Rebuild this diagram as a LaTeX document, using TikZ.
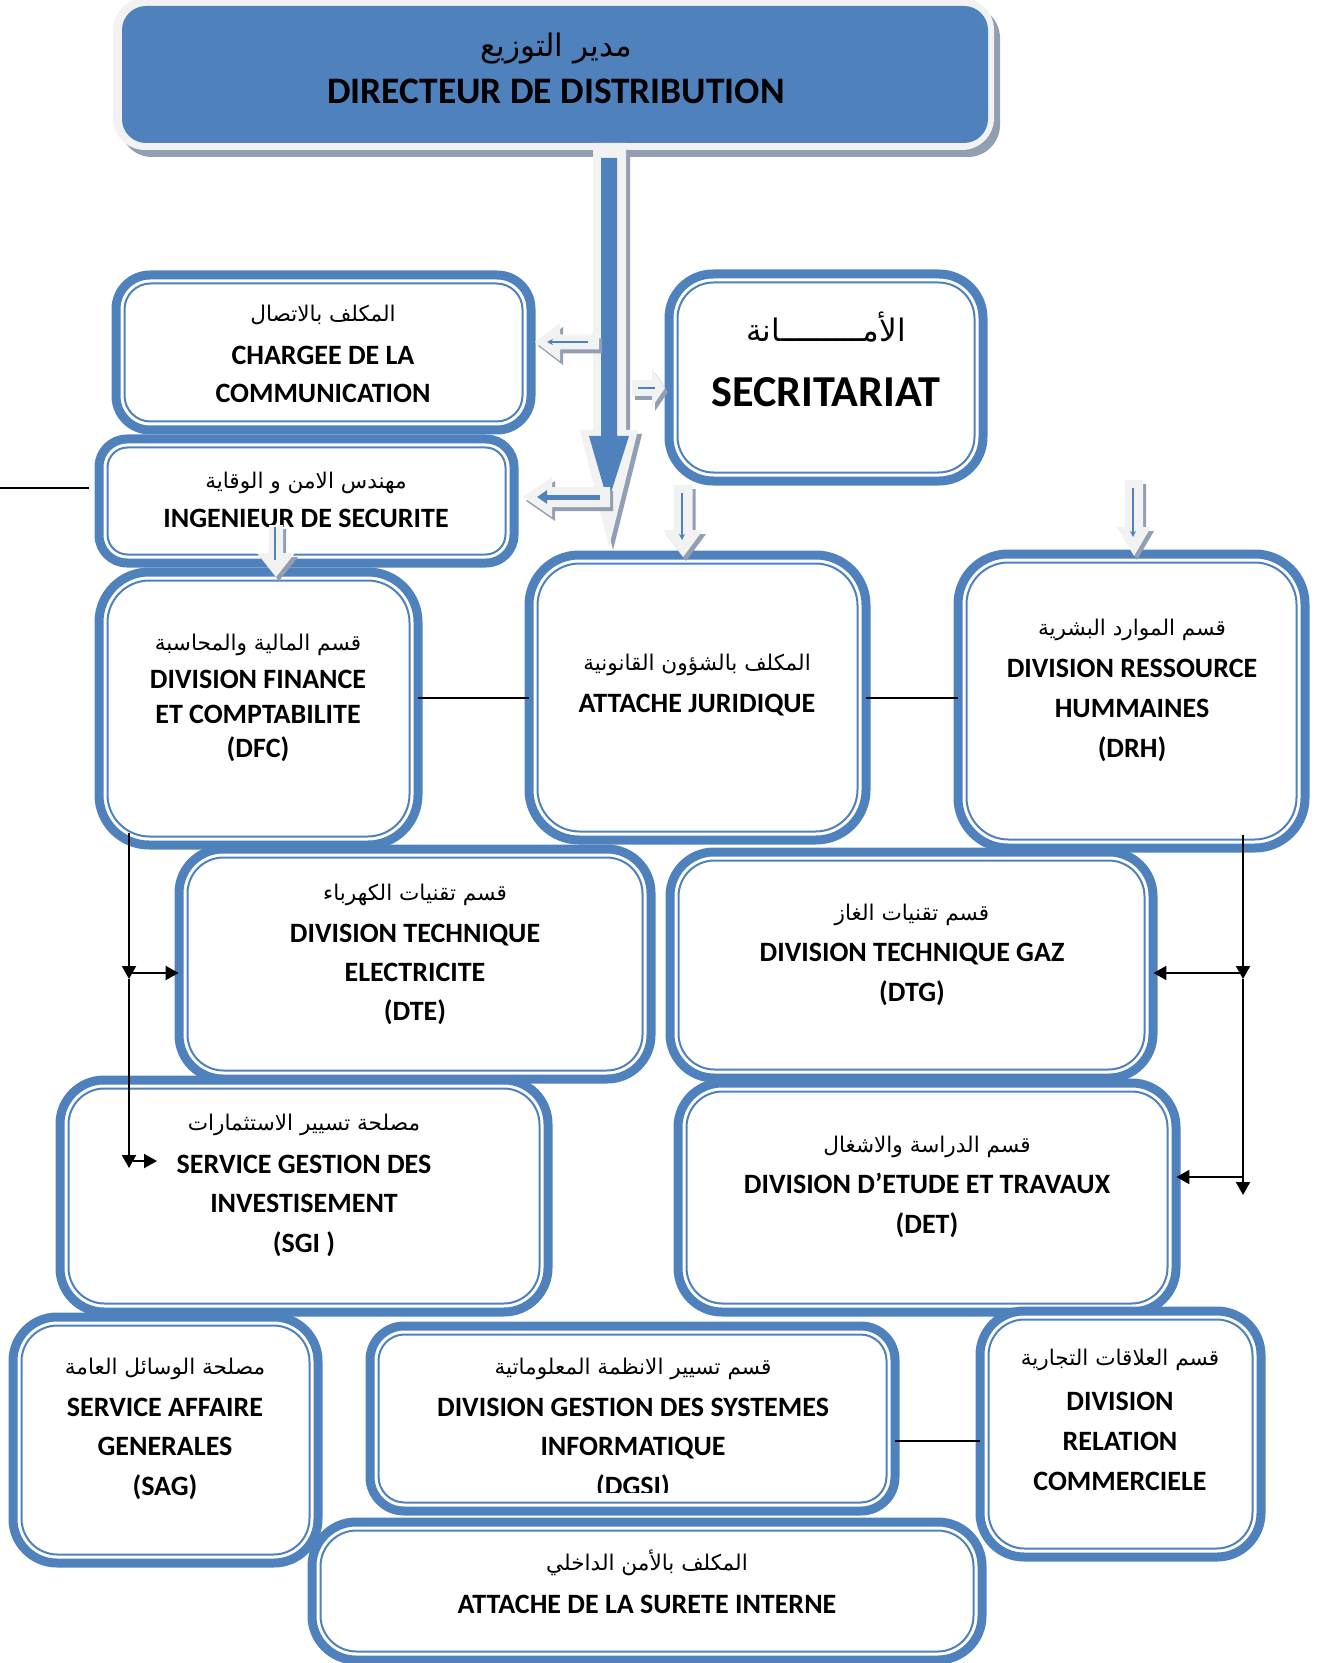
\documentclass[tikz,border=0pt]{standalone}
\usepackage{fontspec}
\setmainfont{Carlito}
\newfontfamily\arabicfont[Script=Arabic]{DejaVu Sans}
\TeXXeTstate=1
\usetikzlibrary{fit,arrows.meta,calc}
\definecolor{ublue}{HTML}{4F81BD}
\definecolor{lgray}{HTML}{F2F2F2}
\definecolor{sgray}{HTML}{929FB3}
\newcommand\ubox[6]{%
  \draw[draw=ublue,line width=4.5pt,fill=white,rounded corners=#6] (#2,#3) rectangle (#4,#5);
  \draw[draw=ublue,line width=1pt,rounded corners=#6-4pt] (#2+8.5,#3+8.5) rectangle (#4-8.5,#5-8.5);
  \node[fit={(#2,#3) (#4,#5)},inner sep=0pt] (#1) {};
}
\newcommand\hollow[1]{\fill[sgray,shift={(3,4)}] #1; \fill[lgray] #1;}
\newcommand\latxt[4]{\node[lat] (#1) at (#2,#3) {#4};}
\begin{document}
\begin{tikzpicture}[x=0.5pt,y=-0.5pt,
  lat/.style={font=\fontsize{14}{16}\selectfont\bfseries,anchor=base,inner sep=0pt},
  arb/.style={font=\arabicfont\fontsize{10.8}{14}\selectfont,anchor=base,inner sep=0pt},
  conn/.style={draw=black,line width=1pt},
  tri/.style={-{Triangle[length=6.5pt,width=7pt]}},
  bluethin/.style={draw=ublue,line width=0.8pt}]
\useasboundingbox (0,0) rectangle (1319,1663);

% Director
\fill[sgray,rounded corners=16pt] (120,6) rectangle (1000,157);
\fill[lgray,rounded corners=16pt] (113,-2) rectangle (994,150);
\fill[ublue,rounded corners=12pt] (122,6) rectangle (988,143);
\node[fit={(122,6) (988,143)},inner sep=0pt] (dir) {};
\node[arb,font=\arabicfont\fontsize{15.5}{18}\selectfont] (dir-ar) at (556,57) {\beginR مدير التوزيع\endR};
\node[lat,font=\fontsize{18.7}{20}\selectfont\bfseries] (dir-fr) at (556,104) {DIRECTEUR DE DISTRIBUTION};

% big arrow
\fill[sgray] (597,150) -- (630,150) -- (630,434) -- (642,434) -- (613,550) -- (584,434) -- (597,434) -- cycle;
\fill[lgray] (593,143) -- (626,143) -- (626,430) -- (638,430) -- (609,547) -- (580,430) -- (593,430) -- cycle;
\fill[ublue] (601,158) -- (617,158) -- (617,436) -- (629,436) -- (608,502) -- (589,436) -- (601,436) -- cycle;

% boxes
\ubox{comm}{116}{275}{531}{430}{17pt}
\ubox{sec}{669}{274}{983}{481}{22pt}
\ubox{ing}{99}{439}{514}{563}{14pt}
\ubox{dfc}{99}{572}{418}{845}{25pt}
\ubox{aj}{529}{555}{866}{840}{25pt}
\ubox{drh}{958}{554}{1305}{848}{25pt}
\ubox{dte}{179}{849}{651}{1079}{22pt}
\ubox{dtg}{670}{852}{1153}{1078}{22pt}
\ubox{sgi}{60}{1080}{548}{1312}{22pt}
\ubox{det}{678}{1083}{1176}{1312}{22pt}
\ubox{sag}{13}{1317}{318}{1563}{22pt}
\ubox{dgsi}{370}{1326}{895}{1511}{17pt}
\ubox{sur}{312}{1522}{982}{1660}{22pt}
\ubox{drc}{980}{1311}{1261}{1557}{22pt}

% texts
\node[arb] (comm-ar) at (323,322) {\beginR المكلف بالاتصال\endR};
\latxt{comm-l1}{323}{365}{CHARGEE DE LA}
\latxt{comm-l2}{323}{403}{COMMUNICATION}

\node[arb,font=\arabicfont\fontsize{15.5}{20}\selectfont] (sec-ar) at (826,342) {\beginR الأمـــــــــانة\endR};
\node[lat,font=\fontsize{22.1}{24}\selectfont\bfseries] (sec-l1) at (826,407) {SECRITARIAT};

\node[arb] (ing-ar) at (306,488) {\beginR مهندس الامن و الوقاية\endR};
\latxt{ing-l1}{306}{527}{INGENIEUR DE SECURITE}

\node[arb] (dfc-ar) at (258,650) {\beginR قسم المالية والمحاسبة\endR};
\latxt{dfc-l1}{258}{688}{DIVISION FINANCE}
\latxt{dfc-l2}{258}{723}{ET COMPTABILITE}
\latxt{dfc-l3}{258}{757}{(DFC)}

\node[arb] (aj-ar) at (697,670) {\beginR المكلف بالشؤون القانونية\endR};
\latxt{aj-l1}{697}{712}{ATTACHE JURIDIQUE}

\node[arb] (drh-ar) at (1132,635) {\beginR قسم الموارد البشرية\endR};
\latxt{drh-l1}{1132}{677}{DIVISION RESSOURCE}
\latxt{drh-l2}{1132}{717}{HUMMAINES}
\latxt{drh-l3}{1132}{757}{(DRH)}

\node[arb] (dte-ar) at (415,900) {\beginR قسم تقنيات الكهرباء\endR};
\latxt{dte-l1}{415}{942}{DIVISION TECHNIQUE}
\latxt{dte-l2}{415}{981}{ELECTRICITE}
\latxt{dte-l3}{415}{1020}{(DTE)}

\node[arb] (dtg-ar) at (912,920) {\beginR قسم تقنيات الغاز\endR};
\latxt{dtg-l1}{912}{961}{DIVISION TECHNIQUE GAZ}
\latxt{dtg-l2}{912}{1001}{(DTG)}

\node[arb] (sgi-ar) at (304,1130) {\beginR مصلحة تسيير الاستثمارات\endR};
\latxt{sgi-l1}{304}{1173}{SERVICE GESTION DES}
\latxt{sgi-l2}{304}{1212}{INVESTISEMENT}
\latxt{sgi-l3}{304}{1252}{(SGI )}

\node[arb] (det-ar) at (927,1152) {\beginR قسم الدراسة والاشغال\endR};
\latxt{det-l1}{927}{1193}{DIVISION D’ETUDE ET TRAVAUX}
\latxt{det-l2}{927}{1233}{(DET)}

\node[arb] (sag-ar) at (165,1374) {\beginR مصلحة الوسائل العامة\endR};
\latxt{sag-l1}{165}{1416}{SERVICE AFFAIRE}
\latxt{sag-l2}{165}{1455}{GENERALES}
\latxt{sag-l3}{165}{1495}{(SAG)}

\node[arb] (dgsi-ar) at (633,1374) {\beginR قسم تسيير الانظمة المعلوماتية\endR};
\latxt{dgsi-l1}{633}{1416}{DIVISION GESTION DES SYSTEMES}
\latxt{dgsi-l2}{633}{1455}{INFORMATIQUE}
\begin{scope}
\clip (370,1330) rectangle (895,1492);
\latxt{dgsi-l3}{633}{1495}{(DGSI)}
\end{scope}

\node[arb] (drc-ar) at (1120,1365) {\beginR قسم العلاقات التجارية\endR};
\latxt{drc-l1}{1120}{1410}{DIVISION}
\latxt{drc-l2}{1120}{1450}{RELATION}
\latxt{drc-l3}{1120}{1490}{COMMERCIELE}

\node[arb] (sur-ar) at (647,1570) {\beginR المكلف بالأمن الداخلي\endR};
\latxt{sur-l1}{647}{1613}{ATTACHE DE LA SURETE INTERNE}

% hollow arrows
\hollow{(599,334.5) -- (560,334.5) -- (560,323) -- (535,342) -- (560,361) -- (560,349.5) -- (599,349.5) -- cycle}
\draw[bluethin,-{Stealth[length=3pt,width=3pt]}] (588,342) -- (547,342);
\hollow{(632,380) -- (652,380) -- (652,369) -- (665,388) -- (652,407) -- (652,396) -- (632,396) -- cycle}
\draw[bluethin] (638,388) -- (655,388);
\hollow{(610,487) -- (552,487) -- (552,477) -- (523,497) -- (552,517) -- (552,507) -- (610,507) -- cycle}
\draw[draw=ublue,line width=2.5pt,-{Triangle[length=5pt,width=6.5pt]}] (600,497) -- (537,497);
\hollow{(673.5,485) -- (692.5,485) -- (692.5,530) -- (703,530) -- (683,557) -- (663,530) -- (673.5,530) -- cycle}
\draw[bluethin,-{Stealth[length=3pt,width=3pt]}] (682,493) -- (682,540);
\hollow{(1125,480) -- (1143,480) -- (1143,527) -- (1151,527) -- (1134,556) -- (1117,527) -- (1125,527) -- cycle}
\draw[bluethin,-{Stealth[length=3pt,width=3pt]}] (1133,488) -- (1133,537);
\hollow{(269,525) -- (283,525) -- (283,553) -- (295,553) -- (276,577) -- (257,553) -- (269,553) -- cycle}
\draw[bluethin] (275,527) -- (275,560);

% black connectors
\coordinate (edgeL) at (0,488);
\draw[conn,shorten >=5pt] (edgeL) -- (edgeL -| ing.west);
\draw[conn] (dfc.east |- aj.west) -- (aj.west);
\draw[conn] (aj.east) -- (aj.east -| drh.west);
\coordinate (k1) at ($(drc.west)+(0,7)$);
\draw[conn] (k1 -| dgsi.east) -- (k1);

\coordinate (lv0) at (129,833);
\coordinate (lv1) at (129,979);
\coordinate (lv2) at (129,1168);
\coordinate (lh1) at (129,973);
\coordinate (lh2a) at (133,1161);
\coordinate (lh2b) at (157,1161);
\draw[conn,tri] (lv0) -- (lv1);
\draw[conn,tri] (lv1) -- (lv2);
\draw[conn,tri] (lh1) -- (lh1 -| dte.west);
\draw[conn,tri] (lh2a) -- (lh2b);

\coordinate (rv0) at (1243,835);
\coordinate (rv1) at (1243,979);
\coordinate (rv2) at (1243,1195);
\coordinate (rh1) at (1243,973);
\coordinate (rh2) at (1243,1177);
\draw[conn,tri] (rv0) -- (rv1);
\draw[conn,tri] (rv1) -- (rv2);
\draw[conn,tri] (rh1) -- (rh1 -| dtg.east);
\draw[conn,tri] (rh2) -- (rh2 -| det.east);
\end{tikzpicture}
\end{document}
